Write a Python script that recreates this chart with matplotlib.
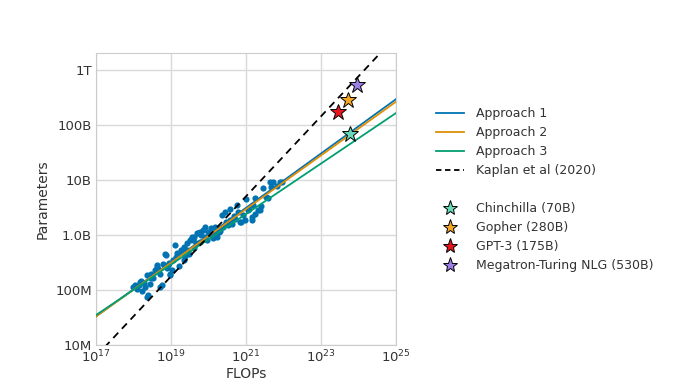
import numpy as np
import matplotlib
matplotlib.use("Agg")
import matplotlib.pyplot as plt
from matplotlib.lines import Line2D

# ---- data ----
flops_exp = [
    18.00, 18.16, 18.19, 18.22, 18.37, 18.31, 18.44, 18.48, 18.57, 18.62,
    18.53, 18.72, 18.71, 18.80, 18.87, 18.96, 19.02, 19.11, 19.17, 19.26,
    19.35, 19.44, 19.52, 19.61, 19.70, 19.22, 19.35, 19.49, 19.61, 19.77,
    19.91, 20.00, 20.08, 19.97, 20.11, 20.22, 20.31, 20.40, 20.35, 20.48,
    20.57, 20.68, 20.80, 20.88, 20.97, 21.00, 21.09, 21.15, 21.24, 21.33,
    21.39, 21.24, 21.46, 21.53, 21.68, 21.95, 21.73, 20.76, 20.57, 20.44,
    20.17, 19.86, 19.73, 19.55, 19.91, 18.97, 19.06, 18.93, 18.84, 18.62,
    18.35, 18.17, 18.04, 18.39, 18.75, 18.97, 19.42, 19.59, 19.77, 20.84,
    21.15, 21.37, 21.64, 21.91, 21.59, 18.10, 18.28, 18.46, 18.66, 19.30,
    19.80, 20.05, 20.25, 20.62, 20.92, 21.05, 19.13, 19.38, 19.66, 20.14,
    20.28, 20.52, 20.71, 21.20, 21.82, 18.90,
]
params_exp = [
    8.05, 8.09, 8.17, 7.99, 7.88, 8.06, 8.11, 8.29, 8.36, 8.42,
    8.21, 8.06, 8.30, 8.47, 8.64, 8.50, 8.36, 8.82, 8.67, 8.73,
    8.78, 8.85, 8.91, 8.97, 9.04, 8.44, 8.55, 8.65, 8.76, 8.88,
    8.97, 9.06, 9.12, 8.91, 8.94, 8.97, 9.08, 9.15, 9.36, 9.24,
    9.28, 9.35, 9.42, 9.24, 9.27, 9.65, 9.48, 9.33, 9.39, 9.45,
    9.52, 9.67, 9.85, 9.70, 9.87, 9.97, 9.97, 9.55, 9.48, 9.41,
    9.15, 9.09, 9.04, 8.97, 9.15, 8.30, 8.55, 8.45, 8.65, 8.45,
    8.27, 8.15, 8.09, 7.91, 8.09, 8.27, 8.73, 8.91, 9.06, 9.24,
    9.27, 9.45, 9.97, 9.97, 9.67, 8.02, 8.12, 8.22, 8.38, 8.70,
    9.00, 9.02, 9.10, 9.20, 9.36, 9.45, 8.60, 8.62, 8.85, 9.02,
    9.05, 9.18, 9.30, 9.55, 9.90, 8.40,
]
run_flops = [10 ** v for v in flops_exp]
run_params = [10 ** v for v in params_exp]

fit_flops = [1e17, 1e25]
approach1 = [3.3e7, 2.95e11]
approach2 = [3.3e7, 2.65e11]
approach3 = [3.5e7, 1.65e11]
kaplan = [6.2e6, 4.1e12]

models = ["Chinchilla (70B)", "Gopher (280B)", "GPT-3 (175B)", "Megatron-Turing NLG (530B)"]
model_flops = [5.8e23, 5.4e23, 2.9e23, 9.0e23]
model_params = [7.0e10, 2.8e11, 1.75e11, 5.3e11]
model_colors = ["#66d9b8", "#f5a623", "#e8151b", "#9b7fe6"]

line_colors = ["#0173b2", "#de8f05", "#029e73"]

yticks = [1e7, 1e8, 1e9, 1e10, 1e11, 1e12]
ytick_labels = ["10M", "100M", "1.0B", "10B", "100B", "1T"]
xticks = [1e17, 1e19, 1e21, 1e23, 1e25]

fig = plt.figure(figsize=(6.87, 3.86), dpi=100)
ax = fig.add_axes([0.1397, 0.1062, 0.4367, 0.7565])

ax.scatter(run_flops, run_params, s=20, color="#0173b2", linewidths=0, zorder=2)
ax.plot(fit_flops, approach1, color=line_colors[0], lw=1.3, zorder=3)
ax.plot(fit_flops, approach2, color=line_colors[1], lw=1.3, zorder=3)
ax.plot(fit_flops, approach3, color=line_colors[2], lw=1.3, zorder=3)
ax.plot(fit_flops, kaplan, color="black", lw=1.3, ls=(0, (4, 3)), zorder=3)

for f, p, c in zip(model_flops, model_params, model_colors):
    ax.plot(f, p, marker="*", ms=12, color=c, mec="black", mew=0.7, ls="none", zorder=4)

ax.set_xscale("log")
ax.set_yscale("log")
ax.set_xlim(1e17, 1e25)
ax.set_ylim(1e7, 2.04e12)
ax.set_xticks(xticks)
ax.set_xticks([], minor=True)
ax.set_yticks(yticks)
ax.set_yticks([], minor=True)
ax.set_yticklabels(ytick_labels)
ax.tick_params(length=0, labelsize=9.5, colors="#333333", pad=3)
ax.grid(True, color="#d9d9d9", lw=1)
ax.set_axisbelow(True)
for sp in ax.spines.values():
    sp.set_color("#cccccc")
ax.set_xlabel("FLOPs", fontsize=10, color="#333333", labelpad=1)
ax.set_ylabel("Parameters", fontsize=10, color="#333333", labelpad=4)

handles = [
    Line2D([], [], color=line_colors[0], lw=1.3),
    Line2D([], [], color=line_colors[1], lw=1.3),
    Line2D([], [], color=line_colors[2], lw=1.3),
    Line2D([], [], color="black", lw=1.3, ls=(0, (3, 2))),
    Line2D([], [], color="none"),
]
labels = ["Approach 1", "Approach 2", "Approach 3", "Kaplan et al (2020)", ""]
for name, c in zip(models, model_colors):
    handles.append(Line2D([], [], marker="*", ms=11, color=c, mec="black", mew=0.7, ls="none"))
    labels.append(name)

leg = fig.legend(handles, labels, loc="upper left", bbox_to_anchor=(0.628, 0.735),
                 frameon=False, fontsize=9, handlelength=2.2, labelspacing=0.48,
                 handletextpad=1.0, borderaxespad=0)
for t in leg.get_texts():
    t.set_color("#333333")

fig.savefig("out.png", dpi=100)
